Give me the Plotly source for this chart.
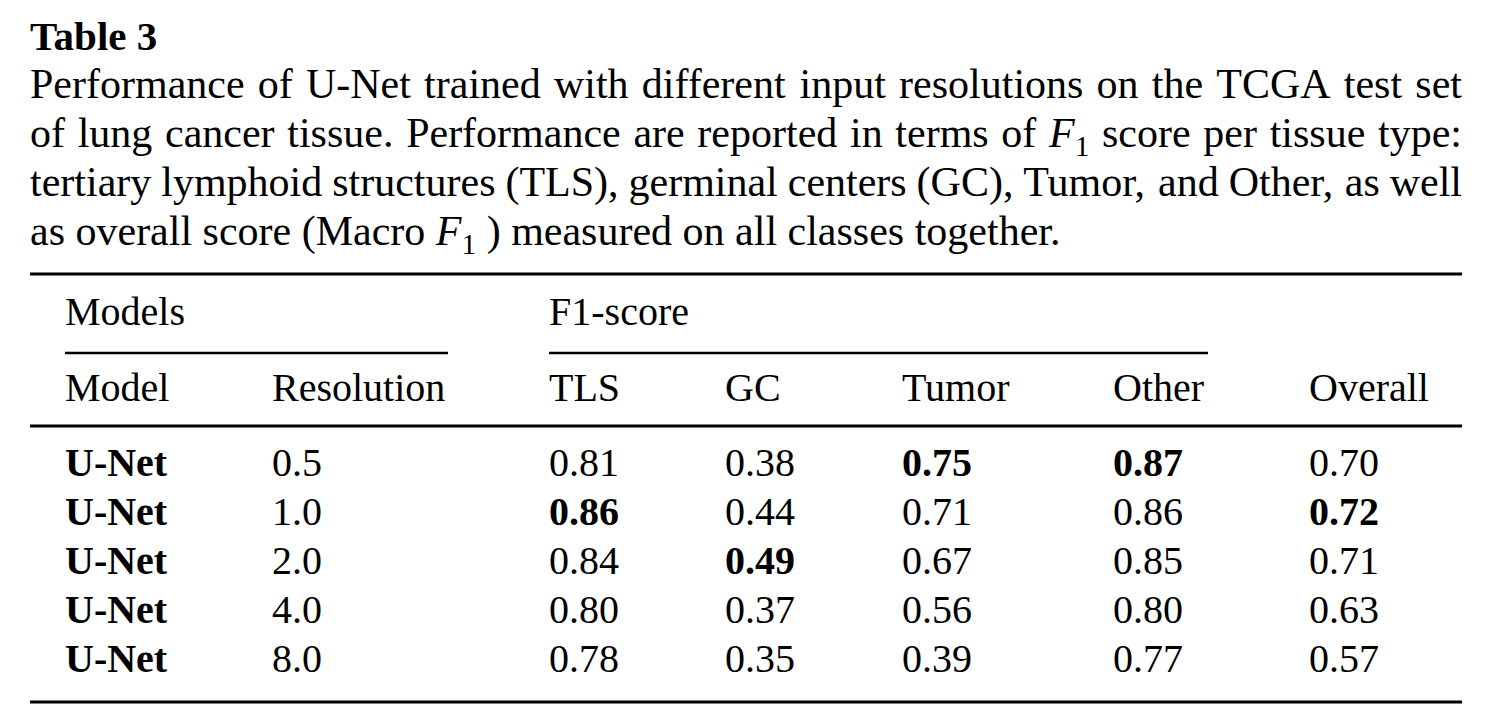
import plotly.graph_objects as go

# ---------------- data ----------------
table_title = "Table 3"
caption_lines = [
    "Performance of U-Net trained with different input resolutions on the TCGA test set",
    "of lung cancer tissue. Performance are reported in terms of <i>F</i><sub>1</sub> score per tissue type:",
    "tertiary lymphoid structures (TLS), germinal centers (GC), Tumor, and Other, as well",
    "as overall score (Macro <i>F</i><sub>1</sub> ) measured on all classes together.",
]
group_headers = ["Models", "F1-score"]
column_headers = ["Model", "Resolution", "TLS", "GC", "Tumor", "Other", "Overall"]
models = ["U-Net", "U-Net", "U-Net", "U-Net", "U-Net"]
resolutions = ["0.5", "1.0", "2.0", "4.0", "8.0"]
tls = [0.81, 0.86, 0.84, 0.80, 0.78]
gc = [0.38, 0.44, 0.49, 0.37, 0.35]
tumor = [0.75, 0.71, 0.67, 0.56, 0.39]
other = [0.87, 0.86, 0.85, 0.80, 0.77]
overall = [0.70, 0.72, 0.71, 0.63, 0.57]

# ---------------- layout / style ----------------
OFF = 8                 # page body margin of the browser
W, H = 1500 - OFF, 726 - OFF
FONT = "Liberation Serif"
FS = 40
FS_CAP = 42
FS_TITLE = 41
TEXT_SHIFT = 4
col_x = [65, 272, 549, 725, 902, 1113, 1309]
group_x = [65, 549]
left, right = 30, 1462
title_base = 50
cap_base0, cap_step = 98, 49
grp_base = 325
hdr_base = 401
row_base0, row_step = 476, 49

# approximate Times metrics (1/1000 em) for justification of caption lines
_w = {" ": 250, "(": 333, ")": 333, ",": 250, "-": 333, ".": 250, ":": 278}
for c in "0123456789":
    _w[c] = 500
_w.update(dict(zip("ABCDEFGHIJKLMNOPQRSTUVWXYZ",
                   [722, 667, 667, 722, 611, 556, 722, 722, 333, 389, 722, 611, 889,
                    722, 722, 556, 722, 667, 556, 611, 722, 722, 944, 722, 722, 611])))
_w.update(dict(zip("abcdefghijklmnopqrstuvwxyz",
                   [444, 500, 444, 500, 444, 333, 500, 500, 278, 278, 500, 278, 778,
                    500, 500, 500, 500, 333, 389, 278, 500, 500, 722, 500, 500, 444])))


def word_width(word, size):
    if "<sub>" in word:
        return (611 + 0.7 * 500) / 1000 * size
    return sum(_w.get(c, 500) for c in word) / 1000 * size


fig = go.Figure()


def add_text(xs, ys, texts, size=FS, pos="middle right"):
    fig.add_trace(go.Scatter(
        x=xs, y=[y - 0.35 * size + TEXT_SHIFT for y in ys], text=texts, mode="text",
        textposition=pos,
        textfont=dict(family=FONT, size=size, color="black"),
        hoverinfo="skip", showlegend=False, cliponaxis=False))


# title
add_text([left], [title_base], [f"<b>{table_title}</b>"], size=FS_TITLE)

# caption: justified lines (all but last), last line left aligned
jx, jy, jt, ex, ey, et = [], [], [], [], [], []
for i, line in enumerate(caption_lines):
    base = cap_base0 + i * cap_step
    if i == len(caption_lines) - 1:
        jx.append(left); jy.append(base); jt.append(line)
        continue
    words = line.split(" ")
    widths = [word_width(w, FS_CAP) for w in words]
    gap = (right - left - sum(widths)) / (len(words) - 1)
    x = left
    for k, (w, wd) in enumerate(zip(words, widths)):
        if k == len(words) - 1:
            ex.append(right); ey.append(base); et.append(w)
        else:
            jx.append(x); jy.append(base); jt.append(w)
        x += wd + gap
add_text(jx, jy, jt, size=FS_CAP)
add_text(ex, ey, et, size=FS_CAP, pos="middle left")

# headers
add_text(group_x, [grp_base] * 2, group_headers)
add_text(col_x, [hdr_base] * len(column_headers), column_headers)

# body
row_y = [row_base0 + i * row_step for i in range(len(models))]
add_text([col_x[0]] * len(models), row_y, [f"<b>{m}</b>" for m in models])
add_text([col_x[1]] * len(resolutions), row_y, resolutions)
for ci, col in enumerate([tls, gc, tumor, other, overall]):
    best = max(col)
    txt = [f"<b>{v:.2f}</b>" if v == best else f"{v:.2f}" for v in col]
    add_text([col_x[ci + 2]] * len(col), row_y, txt)

# rules
shapes = []
for y, x0, x1, w in [(274, left, right, 3), (426, left, right, 3), (702, left, right, 3),
                     (353, 65, 448, 2.5), (353, 549, 1208, 2.5)]:
    shapes.append(dict(type="line", xref="x", yref="y", x0=x0, x1=x1, y0=y, y1=y,
                       line=dict(color="black", width=w)))

fig.update_layout(
    width=W, height=H, margin=dict(l=0, r=0, t=0, b=0),
    paper_bgcolor="white", plot_bgcolor="white",
    xaxis=dict(range=[OFF, OFF + W], visible=False, fixedrange=True),
    yaxis=dict(range=[OFF + H, OFF], visible=False, fixedrange=True),
    shapes=shapes,
)

fig.write_html("out.html", config={"displayModeBar": False})
